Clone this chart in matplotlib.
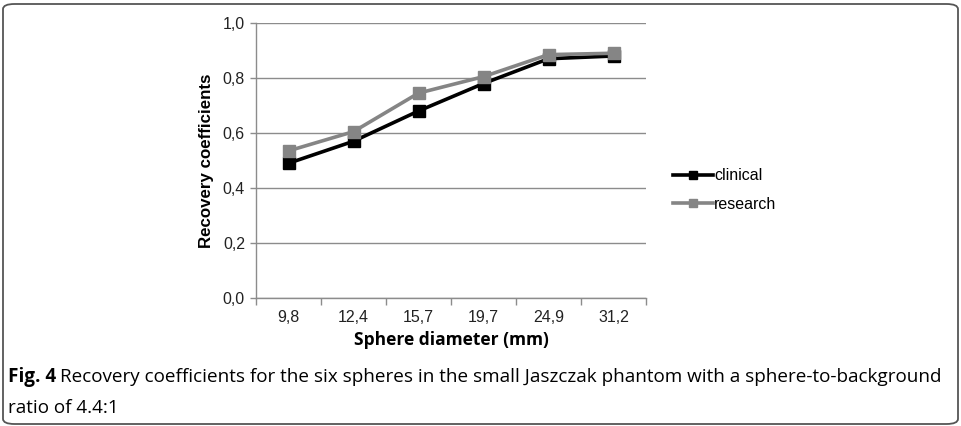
import matplotlib
matplotlib.use("Agg")
import matplotlib.pyplot as plt
from matplotlib.patches import FancyBboxPatch
from matplotlib.lines import Line2D

categories = ["9,8", "12,4", "15,7", "19,7", "24,9", "31,2"]
clinical = [0.49, 0.57, 0.68, 0.78, 0.87, 0.88]
research = [0.535, 0.605, 0.745, 0.805, 0.885, 0.89]
yticks = [0.0, 0.2, 0.4, 0.6, 0.8, 1.0]
ytick_labels = ["0,0", "0,2", "0,4", "0,6", "0,8", "1,0"]

W, H = 962, 426
fig = plt.figure(figsize=(W / 100, H / 100), dpi=100)

# border box
box = FancyBboxPatch((3 / W, 2 / H), 955 / W, 420 / H,
                     boxstyle="round,pad=0,rounding_size=0.012",
                     transform=fig.transFigure, fill=False,
                     edgecolor="#555555", linewidth=1.3)
fig.patches.append(box)

ax = fig.add_axes([256 / W, 1 - 298 / H, 390 / W, 275 / H])
x = list(range(len(categories)))
ax.plot(x, clinical, color="black", lw=2.6, marker="s", ms=8, label="clinical", zorder=3)
ax.plot(x, research, color="#858585", lw=2.6, marker="s", ms=8, label="research", zorder=4)

ax.set_xlim(-0.5, len(categories) - 0.5)
ax.set_ylim(0, 1.0)
ax.set_yticks(yticks)
ax.set_yticklabels(ytick_labels, fontsize=11.5, family="Liberation Sans", color="#222222")
ax.yaxis.grid(True, color="#8c8c8c", lw=1.0)
ax.set_axisbelow(True)
ax.set_xticks(x)
ax.set_xticklabels(categories, fontsize=11.5, family="Liberation Sans", color="#222222")
ax.set_xticks([i - 0.5 for i in range(len(categories) + 1)], minor=True)
ax.tick_params(axis="x", which="major", length=0, pad=9)
ax.tick_params(axis="x", which="minor", length=5, color="#8c8c8c", width=1.0)
ax.tick_params(axis="y", length=4, color="#8c8c8c", width=1.0, pad=4)
for s in ["top", "right"]:
    ax.spines[s].set_visible(False)
for s in ["left", "bottom"]:
    ax.spines[s].set_color("#8c8c8c")
    ax.spines[s].set_linewidth(1.0)

ax.set_ylabel("Recovery coefficients", fontsize=12.2, fontweight="bold",
              family="Liberation Sans", labelpad=6)
ax.set_xlabel("Sphere diameter (mm)", fontsize=12.5, fontweight="bold",
              family="Open Sans", labelpad=4)

handles = [Line2D([], [], color="black", lw=2.6, marker="s", ms=6),
           Line2D([], [], color="#858585", lw=2.6, marker="s", ms=6)]
fig.legend(handles, ["clinical", "research"], loc="upper left",
           bbox_to_anchor=(659 / W, 1 - 154 / H), frameon=False,
           prop={"family": "Liberation Sans", "size": 11.5},
           handlelength=2.5, handletextpad=0.05, labelspacing=0.85)

# caption
fig.canvas.draw()
r = fig.canvas.get_renderer()
t1 = fig.text(8 / W, 1 - 377 / H, "Fig. 4", fontsize=13.6, fontweight="bold",
              family="Open Sans", va="center", ha="left")
bb = t1.get_window_extent(renderer=r)
fig.text((bb.x1 + 4) / W, 1 - 377 / H,
         "Recovery coefficients for the six spheres in the small Jaszczak phantom with a sphere-to-background",
         fontsize=13.6, family="Open Sans", va="center", ha="left")
fig.text(8 / W, 1 - 408 / H, "ratio of 4.4:1", fontsize=13.6, family="Open Sans",
         va="center", ha="left")

fig.savefig("out.png", dpi=100)
